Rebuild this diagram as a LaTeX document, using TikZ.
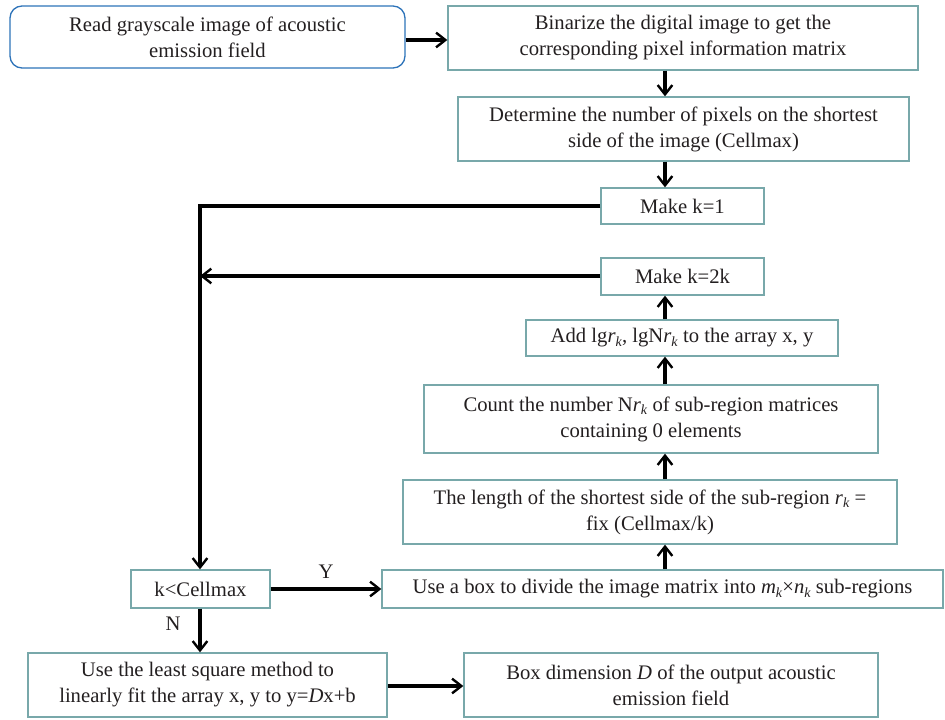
\documentclass[tikz,border=0pt]{standalone}
\usepackage{fontspec}
\setmainfont{Liberation Serif}
\usetikzlibrary{arrows.meta}
\definecolor{boxc}{RGB}{120,168,170}
\definecolor{blueb}{RGB}{45,115,185}
\definecolor{txt}{RGB}{35,31,32}
\newcommand\subk{\raisebox{-0.4ex}{\fontsize{10.5}{10.5}\selectfont\textit{k}}}
\begin{document}
\begin{tikzpicture}[x=0.75pt,y=-0.75pt,
  box/.style={draw=boxc,line width=1pt,inner sep=0pt,align=center,text=txt,
    font=\fontsize{15.5}{19.5}\selectfont},
  conn/.style={line width=2.5pt,-{Straight Barb[length=7pt,width=11pt,line width=1.8pt]}},
  lbl/.style={text=txt,font=\fontsize{15.5}{16}\selectfont}]
\useasboundingbox (0,0) rectangle (945,720);
\node[box,draw=blueb,rounded corners=9pt,minimum width=395*0.75pt,minimum height=62*0.75pt] (read) at (207.5,37) {Read grayscale image of acoustic\\emission field};
\node[box,minimum width=470*0.75pt,minimum height=64*0.75pt] (bin) at (683,38) {Binarize the digital image to get the\\corresponding pixel information matrix};
\node[box,minimum width=451*0.75pt,minimum height=64*0.75pt] (det) at (683.5,129) {Determine the number of pixels on the shortest\\side of the image (Cellmax)};
\node[box,minimum width=163*0.75pt,minimum height=36*0.75pt] (k1) at (682.5,206) {Make k=1};
\node[box,minimum width=163*0.75pt,minimum height=37*0.75pt] (k2k) at (682.5,276.5) {Make k=2k};
\node[box,minimum width=312*0.75pt,minimum height=36*0.75pt] (add) at (682,338) {Add lg\textit{r}\subk, lgN\textit{r}\subk{} to the array x, y};
\node[box,minimum width=454*0.75pt,minimum height=68*0.75pt] (count) at (651,419) {Count the number N\textit{r}\subk{} of sub-region matrices\\containing 0 elements};
\node[box,minimum width=494*0.75pt,minimum height=64*0.75pt] (len) at (650,512) {The length of the shortest side of the sub-region \textit{r}\subk{} =\\fix (Cellmax/k)};
\node[box,minimum width=561*0.75pt,minimum height=38*0.75pt] (use) at (662.5,589) {Use a box to divide the image matrix into \textit{m}\subk×\textit{n}\subk{} sub-regions};
\node[box,minimum width=139*0.75pt,minimum height=38*0.75pt] (kc) at (200.5,589) {k<Cellmax};
\node[box,minimum width=359*0.75pt,minimum height=64*0.75pt] (ls) at (207.5,685) {Use the least square method to\\linearly fit the array x, y to y=\textit{D}x+b};
\node[box,minimum width=414*0.75pt,minimum height=64*0.75pt] (bd) at (671,685) {Box dimension \textit{D} of the output acoustic\\emission field};
\coordinate (col) at (665,0);
\coordinate (lc) at (200,0);
\coordinate (c1) at (200,206);
\coordinate (c2) at (200,276);
\draw[conn] (read.east |- 0,40) -- (bin.west |- 0,40);
\draw[conn] (bin.south -| col) -- (det.north -| col);
\draw[conn] (det.south -| col) -- (k1.north -| col);
\draw[conn] (k1.west) -- (c1) -- (kc.north -| lc);
\draw[conn] (k2k.west |- c2) -- (c2);
\draw[conn] (add.north -| col) -- (k2k.south -| col);
\draw[conn] (count.north -| col) -- (add.south -| col);
\draw[conn] (len.north -| col) -- (count.south -| col);
\draw[conn] (use.north -| col) -- (len.south -| col);
\draw[conn] (kc.east) -- node[lbl,above=3pt] {Y} (use.west);
\draw[conn] (kc.south -| lc) -- node[lbl,left=10pt,pos=0.35] {N} (ls.north -| lc);
\draw[conn] (ls.east |- 0,686) -- (bd.west |- 0,686);
\end{tikzpicture}
\end{document}
